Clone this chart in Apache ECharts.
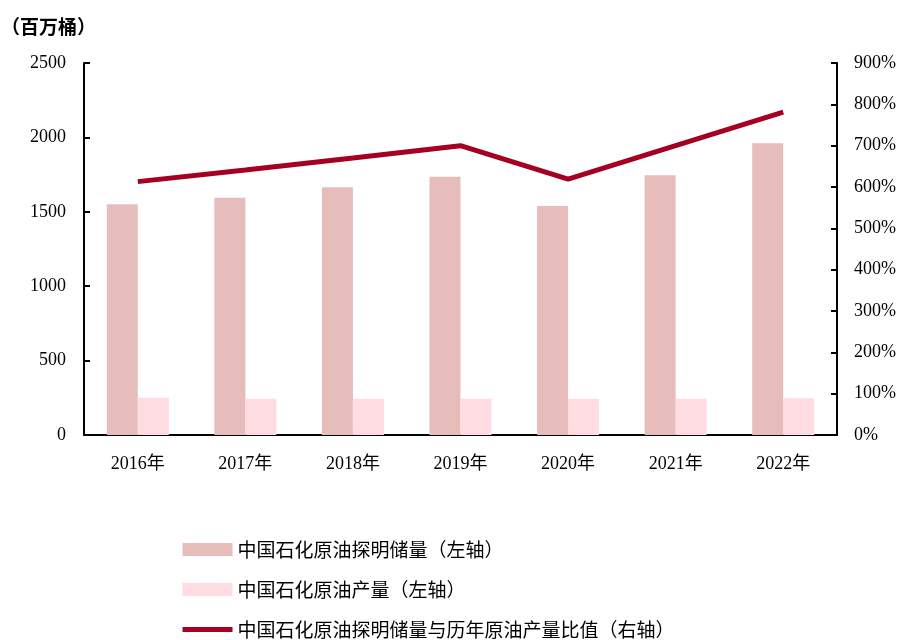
<!DOCTYPE html>
<html>
<head>
<meta charset="utf-8">
<script src="https://cdn.jsdelivr.net/npm/echarts@6/dist/echarts.min.js"></script>
<style>
  html, body { margin: 0; padding: 0; background: #fff; }
  #main { width: 905px; height: 640px; }
</style>
</head>
<body>
<div id="main"></div>
<script>
var years = ["2016年", "2017年", "2018年", "2019年", "2020年", "2021年", "2022年"];
var reserves = [1550, 1595, 1665, 1736, 1539, 1745, 1960];
var production = [251, 243, 243, 243, 243, 243, 247];
var ratio = [613, 641, 670, 700, 619, 700, 781];

var serif = "'Liberation Serif', 'Noto Sans CJK SC', serif";
var cjk = "'Noto Sans CJK SC', sans-serif";

var chart = echarts.init(document.getElementById("main"));

chart.setOption({
  animation: false,
  // (百万桶) unit label
  title: {
    text: "（百万桶）",
    left: -4,
    top: 12,
    textStyle: { fontFamily: cjk, fontSize: 19, fontWeight: "bold", color: "#000" }
  },
  grid: { left: 84, right: 68, top: 63, bottom: 205 },
  legend: {
    orient: "vertical",
    left: 180,
    top: 540,
    height: 140,
    padding: 0,
    itemGap: 21,
    itemWidth: 50,
    itemHeight: 13,
    textStyle: { fontFamily: cjk, fontSize: 19, color: "#000" },
    data: [
      { name: "中国石化原油探明储量（左轴）", icon: "rect" },
      { name: "中国石化原油产量（左轴）", icon: "rect" },
      {
        name: "中国石化原油探明储量与历年原油产量比值（右轴）",
        itemStyle: { opacity: 0 },
        lineStyle: { color: "#A50021", width: 5 }
      }
    ]
  },
  xAxis: {
    type: "category",
    data: years,
    axisLine: { lineStyle: { color: "#000", width: 2 } },
    axisTick: { show: false },
    axisLabel: { fontFamily: serif, fontSize: 18, color: "#000", margin: 20 }
  },
  yAxis: [
    {
      type: "value",
      min: 0,
      max: 2500,
      interval: 500,
      splitLine: { show: false },
      axisLine: { show: true, lineStyle: { color: "#000", width: 2 } },
      axisTick: { show: true, inside: true, length: 6, lineStyle: { color: "#000", width: 2 } },
      axisLabel: {
        fontFamily: serif, fontSize: 18, color: "#000", margin: 18,
        formatter: function (v) { return String(v); }
      }
    },
    {
      type: "value",
      min: 0,
      max: 900,
      interval: 100,
      splitLine: { show: false },
      axisLine: { show: true, lineStyle: { color: "#000", width: 2 } },
      axisTick: { show: true, inside: true, length: 6, lineStyle: { color: "#000", width: 2 } },
      axisLabel: { fontFamily: serif, fontSize: 18, color: "#000", margin: 17, formatter: "{value}%" }
    }
  ],
  series: [
    {
      name: "中国石化原油探明储量（左轴）",
      type: "bar",
      data: reserves,
      barWidth: 31,
      barGap: "0%",
      itemStyle: { color: "#E6BDBB" }
    },
    {
      name: "中国石化原油产量（左轴）",
      type: "bar",
      data: production,
      barWidth: 31,
      barGap: "0%",
      itemStyle: { color: "#FFDCE1" }
    },
    {
      name: "中国石化原油探明储量与历年原油产量比值（右轴）",
      type: "line",
      yAxisIndex: 1,
      data: ratio,
      symbol: "none",
      lineStyle: { color: "#A50021", width: 5 },
      itemStyle: { color: "#A50021" }
    }
  ]
});
</script>
</body>
</html>
